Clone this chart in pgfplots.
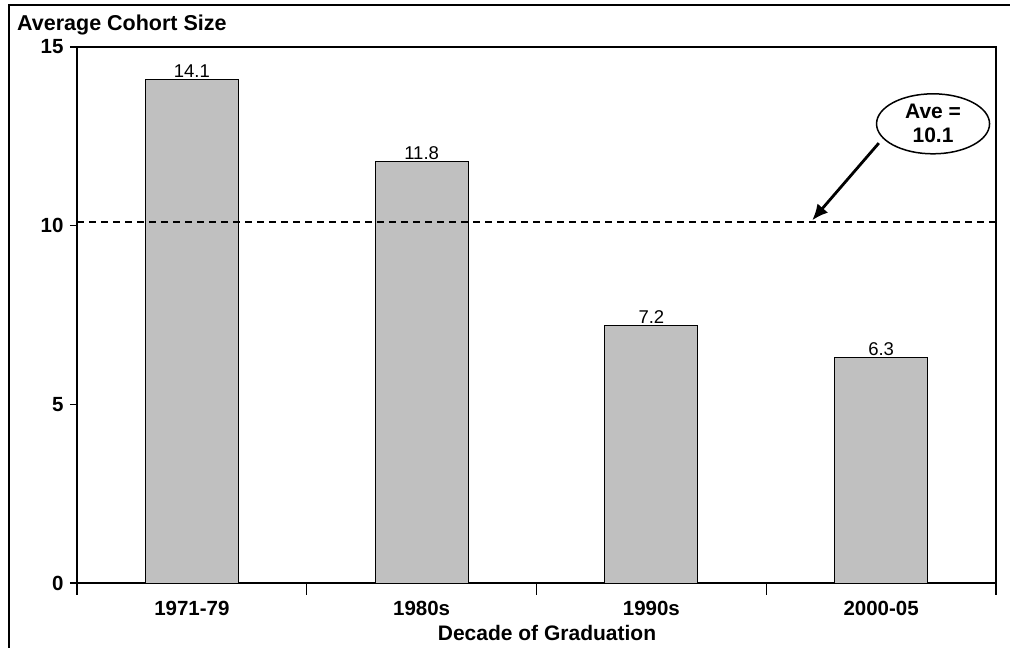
\documentclass[border=0pt]{standalone}
\usepackage{fontspec}
\setmainfont{Liberation Sans}
\usepackage{pgfplots}
\pgfplotsset{compat=1.18}
\usetikzlibrary{arrows.meta,shapes.geometric}
\begin{document}
\begin{tikzpicture}[x=1pt,y=1pt]
\useasboundingbox (0,0) rectangle (1010,648);
% outer frame (left and top only visible)
\draw[line width=1.5pt] (9,0) -- (9,643) -- (1010,643);
\node[anchor=west,font=\fontsize{21.5}{24}\selectfont\bfseries, inner sep=0pt] at (17,623) {Average Cohort Size};
\node[font=\fontsize{21}{24}\selectfont\bfseries, inner sep=0pt] at (547,15) {Decade of Graduation};
\begin{axis}[
  at={(77pt,65pt)}, anchor=south west,
  width=919pt, height=536pt, scale only axis,
  xmin=-0.5, xmax=3.5, ymin=0, ymax=15,
  ytick={0,5,10,15},
  xtick={0,1,2,3},
  xticklabels={1971-79,1980s,1990s,2000-05},
  minor xtick={-0.5,0.5,1.5,2.5,3.5},
  major x tick style={draw=none},
  xtick pos=bottom, ytick pos=left,
  tick align=outside,
  major tick length=7pt,
  minor tick length=12pt,
  axis line style={line width=1.3pt},
  every tick/.style={line width=1.3pt, black},
  /pgf/number format/assume math mode=true,
  ticklabel style={font=\fontsize{20.5}{24}\selectfont\bfseries},
  xticklabel style={yshift=-8pt},
  yticklabel style={xshift=-3pt},
  clip=false,
]
\addplot[ybar, bar width=93pt, fill={rgb,255:red,192;green,192;blue,192}, draw=black, line width=0.8pt,
  nodes near coords, nodes near coords style={font=\fontsize{18.5}{21}\selectfont, black, yshift=-2pt},
  point meta=explicit symbolic]
  coordinates {(0,14.1)[14.1] (1,11.8)[11.8] (2,7.2)[7.2] (3,6.3)[6.3]};
\addplot[black, line width=1.6pt, dash pattern=on 7pt off 5pt, forget plot] coordinates {(-0.5,10.1) (3.5,10.1)};
\draw[line width=2.8pt, -{Latex[length=16pt,width=14pt]}] (axis cs:2.99,12.31) -- (axis cs:2.70,10.15);
\node[draw, ellipse, line width=1.5pt, fill=white, minimum width=113pt, minimum height=60pt, inner sep=0pt, align=center,
  font=\fontsize{21}{24}\selectfont\bfseries] at (axis cs:3.226,12.85) {Ave =\\10.1};
\end{axis}
\end{tikzpicture}
\end{document}
